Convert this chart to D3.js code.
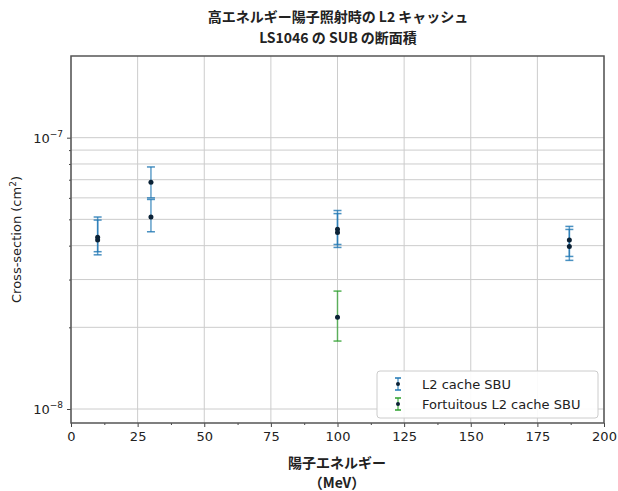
<!DOCTYPE html>
<html><head><meta charset="utf-8">
<script src="https://cdn.jsdelivr.net/npm/d3@7"></script>
<style>body{margin:0;background:#fff;}</style>
</head><body>
<svg id="c" width="618" height="491"></svg>
<script>
const titleLines = ["高エネルギー陽子照射時の L2 キャッシュ", "LS1046 の SUB の断面積"];
const xLabelLines = ["陽子エネルギー", "（MeV）"];
const yLabel = "Cross-section (cm";
const seriesNames = ["L2 cache SBU", "Fortuitous L2 cache SBU"];
const seriesColors = ["#1f77b4", "#2ca02c"];
// L2 cache SBU
const sbuEnergy = [10, 10, 30, 30, 100, 100, 187, 187];
const sbuValue  = [4.3e-8, 4.2e-8, 6.85e-8, 5.1e-8, 4.6e-8, 4.47e-8, 4.2e-8, 3.97e-8];
const sbuLow    = [3.8e-8, 3.7e-8, 6.0e-8, 4.5e-8, 4.04e-8, 3.94e-8, 3.65e-8, 3.53e-8];
const sbuHigh   = [5.1e-8, 4.97e-8, 7.8e-8, 5.92e-8, 5.39e-8, 5.25e-8, 4.71e-8, 4.59e-8];
// Fortuitous L2 cache SBU
const fortEnergy = [100];
const fortValue  = [2.18e-8];
const fortLow    = [1.78e-8];
const fortHigh   = [2.72e-8];
const xTicks = [0, 25, 50, 75, 100, 125, 150, 175, 200];
const xMinorTicks = [12.5, 37.5, 62.5, 87.5, 112.5, 137.5, 162.5, 187.5];
const yMajor = [1e-8, 1e-7];
const yMinor = [2e-8, 3e-8, 4e-8, 5e-8, 6e-8, 7e-8, 8e-8, 9e-8];

const svg = d3.select("#c");
const L = 71, R = 604, T = 56, B = 423;
const x = d3.scaleLinear().domain([0, 200]).range([L, R]);
const y = d3.scaleLog().domain([8.88e-9, 2e-7]).range([B, T]);

// grid
const g = svg.append("g");
g.selectAll(".vg").data(xTicks).enter().append("line")
  .attr("x1", d => x(d)).attr("x2", d => x(d)).attr("y1", T).attr("y2", B)
  .attr("stroke", "#cccccc").attr("stroke-width", 1);
g.selectAll(".hg").data(yMajor.concat(yMinor)).enter().append("line")
  .attr("x1", L).attr("x2", R).attr("y1", d => y(d)).attr("y2", d => y(d))
  .attr("stroke", "#cccccc").attr("stroke-width", 1);

// axes
const font = "DejaVu Sans, sans-serif";
const xAxis = svg.append("g").attr("transform", `translate(0,${B})`)
  .call(d3.axisBottom(x).tickValues(xTicks).tickSize(4).tickPadding(5).tickFormat(d3.format("d")));
const xAxisMinor = svg.append("g").attr("transform", `translate(0,${B})`)
  .call(d3.axisBottom(x).tickValues(xMinorTicks).tickSize(2).tickFormat(""));
const yAxis = svg.append("g").attr("transform", `translate(${L},0)`)
  .call(d3.axisLeft(y).tickValues(yMajor).tickSize(4).tickPadding(4).tickFormat(""));
const yAxisMinor = svg.append("g").attr("transform", `translate(${L},0)`)
  .call(d3.axisLeft(y).tickValues(yMinor).tickSize(2).tickFormat(""));
[xAxis, xAxisMinor, yAxis, yAxisMinor].forEach(a => {
  a.select(".domain").remove();
  a.selectAll("line").attr("stroke", "#444");
  a.selectAll("text").attr("font-family", font).attr("font-size", 13).attr("fill", "#222");
});
// y tick labels as 10^n
yMajor.forEach(v => {
  const e = Math.round(Math.log10(v));
  const t = svg.append("text").attr("x", L - 8).attr("y", y(v) + 5)
    .attr("text-anchor", "end").attr("font-family", font).attr("font-size", 13).attr("fill", "#222");
  t.append("tspan").text("10");
  t.append("tspan").attr("dy", -6).attr("font-size", 9).text("\u2212" + Math.abs(e));
});

// frame
svg.append("rect").attr("x", L).attr("y", T).attr("width", R - L).attr("height", B - T)
  .attr("fill", "none").attr("stroke", "#555").attr("stroke-width", 1.5);

// error bars
function drawSeries(xs, vs, lo, hi, color) {
  const s = svg.append("g");
  xs.forEach((xv, i) => {
    const cx = x(xv);
    s.append("line").attr("x1", cx).attr("x2", cx).attr("y1", y(lo[i])).attr("y2", y(hi[i]))
      .attr("stroke", color).attr("stroke-width", 1.5).attr("opacity", 0.7);
    [lo[i], hi[i]].forEach(c => s.append("line").attr("x1", cx - 4).attr("x2", cx + 4)
      .attr("y1", y(c)).attr("y2", y(c)).attr("stroke", color).attr("stroke-width", 1.5).attr("opacity", 0.8));
  });
  xs.forEach((xv, i) => {
    s.append("circle").attr("cx", x(xv)).attr("cy", y(vs[i])).attr("r", 2.5).attr("fill", "#0b2236");
  });
}
drawSeries(sbuEnergy, sbuValue, sbuLow, sbuHigh, seriesColors[0]);
drawSeries(fortEnergy, fortValue, fortLow, fortHigh, seriesColors[1]);

// legend
const lg = svg.append("g");
lg.append("rect").attr("x", 377).attr("y", 371).attr("width", 221).attr("height", 47).attr("rx", 3)
  .attr("fill", "#fff").attr("fill-opacity", 0.9).attr("stroke", "#ccc");
seriesNames.forEach((n, i) => {
  const cy = 384 + i * 20;
  const cx = 398;
  lg.append("line").attr("x1", cx).attr("x2", cx).attr("y1", cy - 6).attr("y2", cy + 6)
    .attr("stroke", seriesColors[i]).attr("stroke-width", 1.5).attr("opacity", 0.7);
  [cy - 6, cy + 6].forEach(c => lg.append("line").attr("x1", cx - 3).attr("x2", cx + 3)
    .attr("y1", c).attr("y2", c).attr("stroke", seriesColors[i]).attr("stroke-width", 1.5));
  lg.append("circle").attr("cx", cx).attr("cy", cy).attr("r", 2).attr("fill", "#0b2236");
  lg.append("text").attr("x", 422).attr("y", cy + 5).attr("font-family", font).attr("font-size", 13)
    .attr("fill", "#222").text(n);
});

// y label
const yl = svg.append("text").attr("transform", `translate(21,${(T + B) / 2}) rotate(-90)`)
  .attr("text-anchor", "middle").attr("font-family", font).attr("font-size", 13).attr("fill", "#222");
yl.append("tspan").text(yLabel);
yl.append("tspan").attr("dy", -5).attr("font-size", 9).text("2");
yl.append("tspan").attr("dy", 5).text(")");

// title
titleLines.forEach((t, i) => svg.append("text").attr("x", 338).attr("y", 22 + i * 21)
  .attr("text-anchor", "middle").attr("font-family", "Noto Sans CJK JP, sans-serif")
  .attr("font-weight", "bold").attr("font-size", 14).attr("fill", "#222").text(t));
// x label
xLabelLines.forEach((t, i) => svg.append("text").attr("x", 337).attr("y", 468 + i * 20)
  .attr("text-anchor", "middle").attr("font-family", "Noto Sans CJK JP, sans-serif")
  .attr("font-weight", "bold").attr("font-size", 14).attr("fill", "#222").text(t));
</script>
</body></html>
